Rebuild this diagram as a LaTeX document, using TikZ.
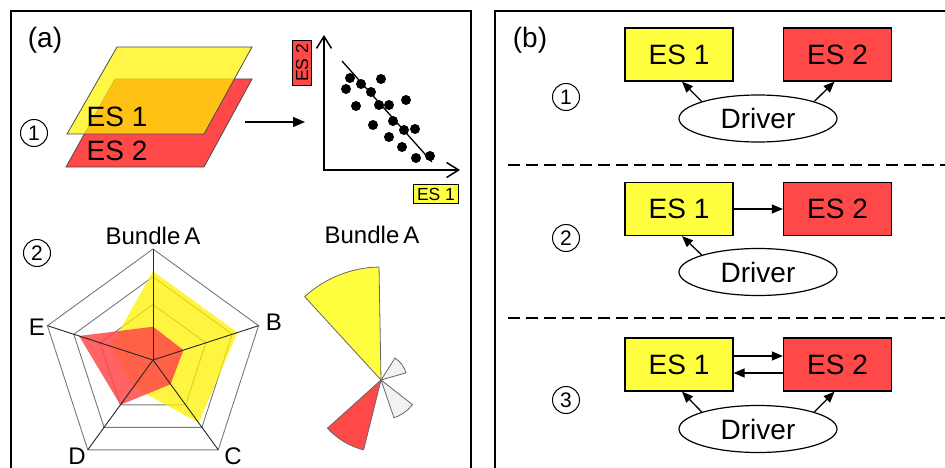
\documentclass[tikz,border=0pt]{standalone}
\usepackage{fontspec}
\setmainfont{Liberation Sans}
\usetikzlibrary{arrows.meta,shapes.geometric,calc}
\definecolor{esyellow}{RGB}{255,255,64}
\definecolor{esred}{RGB}{255,72,72}
\definecolor{rosegray}{RGB}{242,242,242}
\definecolor{gridgray}{RGB}{120,120,120}
\begin{document}
\begin{tikzpicture}[x=1pt,y=-1pt,
  bigtext/.style={font=\fontsize{28}{30}\selectfont},
  midtext/.style={font=\fontsize{24}{26}\selectfont},
  smalltext/.style={font=\fontsize{17.5}{18}\selectfont},
  circnum/.style={circle, draw, line width=1pt, minimum size=27pt, inner sep=0pt, font=\fontsize{21}{21}\selectfont},
  frame/.style={line width=2pt},
  esbox/.style={draw, line width=1.3pt, minimum width=108pt, minimum height=53pt, inner sep=0pt, bigtext},
  driver/.style={ellipse, draw, line width=1.2pt, fill=white, minimum width=158pt, minimum height=47pt, inner sep=0pt, bigtext},
  arr/.style={line width=1.3pt, -{Triangle[length=11pt,width=9pt]}},
  lbl/.style={draw, line width=1pt, inner xsep=4pt, inner ysep=3pt, smalltext},
  dot/.style={circle, fill=black, inner sep=0pt, minimum size=10pt},
  sepline/.style={line width=1.5pt, dash pattern=on 12pt off 6pt},
  rose/.style={draw=black!60, line width=0.8pt}
]
\useasboundingbox (0,0) rectangle (945,468);
\clip (0,0) rectangle (945,468);

% frames
\draw[frame] (11,480) -- (11,11) -- (471,11) -- (471,480);
\draw[frame] (495,480) -- (495,11) -- (960,11);

% ---------------- panel (a)
\node[bigtext] (la) at (45,40) {(a)};
\node[circnum] (n1a) at (34,133) {1};

\filldraw[draw=black!70, line width=0.8pt, fill=esred] (66,167) -- (204,167) -- (252,79) -- (115,79) -- cycle;
\fill[yellow, fill opacity=0.72] (67,134) -- (204,134) -- (252,47) -- (117,47) -- cycle;
\draw[black!70, line width=0.8pt] (67,134) -- (204,134) -- (252,47) -- (117,47) -- cycle;
\node[bigtext] (t1) at (117,117) {ES 1};
\node[bigtext] (t2) at (117,151) {ES 2};

\coordinate (ar1) at (245,122);
\coordinate (ar2) at (305,122);
\draw[line width=1.5pt, -{Triangle[length=12pt,width=10pt]}] (ar1) -- (ar2);

% scatter plot
\coordinate (yt) at (324,35);
\coordinate (org) at (324,170);
\coordinate (xt) at (460,170);
\draw[line width=1.5pt, {Straight Barb[length=12pt,width=15pt]}-{Straight Barb[length=12pt,width=15pt]}] (yt) -- (org) -- (xt);
\coordinate (tr1) at (342,61);
\coordinate (tr2) at (432,162);
\draw[line width=1.3pt] (tr1) -- (tr2);
\foreach \px/\py [count=\i] in {350/78,346/89,361/84,381/79,371/92,356/106,379/105,389/105,406/100,393/121,373/125,404/130,415/129,389/137,402/147,416/158,430/156}
  \node[dot] (d\i) at (\px,\py) {};
\node[lbl, fill=esred, rotate=90] (ly) at (302,63) {ES 2};
\node[lbl, fill=esyellow] (lx) at (436,194) {ES 1};

% radar chart
\node[circnum] (n2a) at (37,253) {2};
\begin{scope}[shift={(153,360)}, yscale=-1]
  \foreach \r in {27.75,55.5,83.25,111}
    \draw[gridgray, line width=0.9pt] (90:\r) -- (18:\r) -- (-54:\r) -- (-126:\r) -- (162:\r) -- cycle;
  \fill[yellow, fill opacity=0.75] (90:88.8) -- (18:88.8) -- (-54:77.7) -- (-126:33.3) -- (162:44.4) -- cycle;
  \fill[esred, fill opacity=0.85] (90:33.3) -- (18:32) -- (-54:30) -- (-126:55.5) -- (162:77.7) -- cycle;
  \foreach \a in {90,18,-54,-126,162}
    \draw[black!85, line width=0.9pt] (0,0) -- (\a:111);
\end{scope}
\node[midtext] (ba) at (153,236) {Bundle\,A};
\node[midtext] (vb) at (274,322) {B};
\node[midtext] (vc) at (233,456) {C};
\node[midtext] (vd) at (77,456) {D};
\node[midtext] (ve) at (37,327) {E};

% rose chart
\node[midtext] (bb) at (372,235) {Bundle\,A};
\begin{scope}[shift={(381,380)}, yscale=-1]
  \filldraw[rose, fill=esyellow] (0,0) -- (91:113) arc[start angle=91, end angle=132.5, radius=113] -- cycle;
  \filldraw[rose, fill=esred] (0,0) -- (222:72) arc[start angle=222, end angle=256, radius=72] -- cycle;
  \filldraw[rose, fill=rosegray] (0,0) -- (16:26) arc[start angle=16, end angle=57.5, radius=26] -- cycle;
  \filldraw[rose, fill=rosegray] (0,0) -- (-71:40) arc[start angle=-71, end angle=-38, radius=40] -- cycle;
\end{scope}

% ---------------- panel (b)
\node[bigtext] (lb) at (530,40) {(b)};

% section 1
\node[circnum] (n1b) at (566,97) {1};
\node[esbox, fill=esyellow] (e11) at (679,54.5) {ES 1};
\node[esbox, fill=esred] (e12) at (837.5,54.5) {ES 2};
\node[driver] (dr1) at (758,118.5) {Driver};
\draw[arr] (dr1.north west) -- ([xshift=3pt]e11.south);
\draw[arr] (dr1.north east) -- ([xshift=-3pt]e12.south);

\coordinate (s1a) at (508,165);
\coordinate (s1b) at (960,165);
\draw[sepline] (s1a) -- (s1b);

% section 2
\node[circnum] (n2b) at (566,238) {2};
\node[esbox, fill=esyellow] (e21) at (679,209) {ES 1};
\node[esbox, fill=esred] (e22) at (837.5,209) {ES 2};
\node[driver] (dr2) at (758,272) {Driver};
\draw[arr] (dr2.north west) -- ([xshift=3pt]e21.south);
\draw[arr] (e21.east) -- (e22.west);

\coordinate (s2a) at (508,318);
\coordinate (s2b) at (960,318);
\draw[sepline] (s2a) -- (s2b);

% section 3
\node[circnum] (n3b) at (566,400) {3};
\node[esbox, fill=esyellow] (e31) at (679,364.5) {ES 1};
\node[esbox, fill=esred] (e32) at (837.5,364.5) {ES 2};
\node[driver] (dr3) at (758,429) {Driver};
\draw[arr] (dr3.north west) -- ([xshift=3pt]e31.south);
\draw[arr] (dr3.north east) -- ([xshift=-3pt]e32.south);
\draw[arr] ([yshift=8.5pt]e31.east) -- ([yshift=8.5pt]e32.west);
\draw[arr] ([yshift=-8.5pt]e32.west) -- ([yshift=-8.5pt]e31.east);
\end{tikzpicture}
\end{document}
